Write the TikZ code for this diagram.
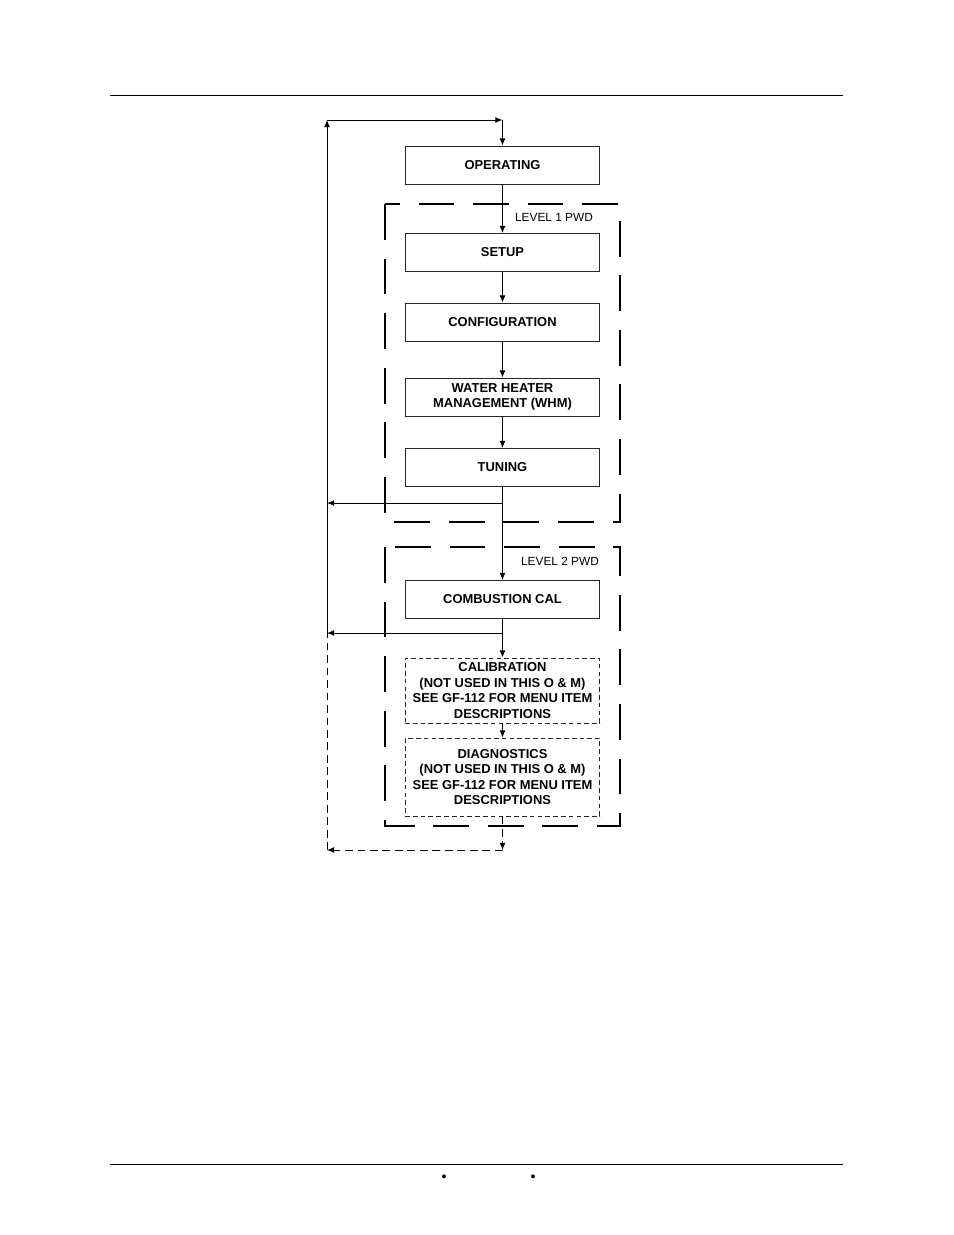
\documentclass[tikz,border=0pt]{standalone}
\usepackage{fontspec}
\setmainfont{Liberation Sans}
\usetikzlibrary{arrows.meta}
\begin{document}
\begin{tikzpicture}[x=0.6415pt,y=-0.6415pt]

    \tikzset{
      menubox/.style={
        draw=black!85,
        line width=0.6pt,
        inner sep=1pt,
        minimum width=125pt,
        minimum height=24.4pt,
        align=center,
        font=\fontsize{8.3}{10}\selectfont\bfseries,
      },
      optbox/.style={
        menubox,
        dash pattern=on 3pt off 2pt,
      },
      pwdframe/.style={
        line width=1.3pt,
        dash pattern=on 23pt off 12pt,
      },
      flow/.style={
        line width=0.6pt,
        -{Latex[length=4.6pt,width=3.8pt]},
      },
      optflow/.style={
        flow,
        dash pattern=on 5pt off 3pt,
      },
      pwdlabel/.style={
        font=\fontsize{7.6}{9}\selectfont,
      },
    }
    \useasboundingbox (0,0) rectangle (954,1235);
    % page rules
    \draw[line width=0.6pt] (110,95)--(843,95);
    \draw[line width=0.6pt] (110,1164)--(843,1164);
    \node[font=\fontsize{9}{10}\selectfont] (dotl) at (444,1178) {•};
    \node[font=\fontsize{9}{10}\selectfont] (dotr) at (533,1178) {•};
	% password levels
	\draw[pwdframe] (385,204) rectangle (620,522);
	\draw[pwdframe] (385,547) rectangle (620,826);
	\node[pwdlabel] (lvla) at (554,217) {LEVEL 1 PWD};
	\node[pwdlabel] (lvlb) at (560,561) {LEVEL 2 PWD};
	% menus
	\node[menubox] (operating) at (502.5,165) {OPERATING};
	\node[menubox] (setup) at (502.5,252.5) {SETUP};
	\node[menubox] (config) at (502.5,322) {CONFIGURATION};
	\node[menubox] (whm) at (502.5,397) {WATER HEATER\\MANAGEMENT (WHM)};
	\node[menubox] (tuning) at (502.5,467.5) {TUNING};
	\node[menubox] (combcal) at (502.5,599.5) {COMBUSTION CAL};
	\node[optbox,minimum height=41.7pt] (calib) at (502.5,690.5) {CALIBRATION\\(NOT USED IN THIS O \& M)\\SEE GF-112 FOR MENU ITEM\\DESCRIPTIONS};
	\node[optbox,minimum height=50pt] (diag) at (502.5,777) {DIAGNOSTICS\\(NOT USED IN THIS O \& M)\\SEE GF-112 FOR MENU ITEM\\DESCRIPTIONS};
	% return path
	\coordinate (topl) at (327,120);
	\coordinate (topr) at (502.5,120);
	\coordinate (brtun) at (502.5,503);
	\coordinate (leftun) at (327,503);
	\coordinate (brcal) at (502.5,633);
	\coordinate (lefcal) at (327,633);
	\coordinate (botr) at (502.5,850);
	\coordinate (botl) at (327,850);
	\draw[flow] (operating)--(setup);
	\draw[flow] (setup)--(config);
	\draw[flow] (config)--(whm);
	\draw[flow] (whm)--(tuning);
	\draw[flow] (tuning)--(combcal);
	\draw[flow] (brtun)--(leftun);
	\draw[flow] (combcal)--(calib);
	\draw[flow] (brcal)--(lefcal);
	\draw[flow] (calib)--(diag);
	\draw[optflow] (diag)--(botr);
	\draw[optflow] (botr)--(botl);
	\draw[line width=0.6pt,dash pattern=on 5pt off 3pt] (botl)--(lefcal);
	\draw[line width=0.6pt] (lefcal)--(leftun);
	\draw[flow] (leftun)--(topl);
	\draw[flow] (topl)--(topr);
	\draw[flow] (topr)--(operating);

\end{tikzpicture}
\end{document}
